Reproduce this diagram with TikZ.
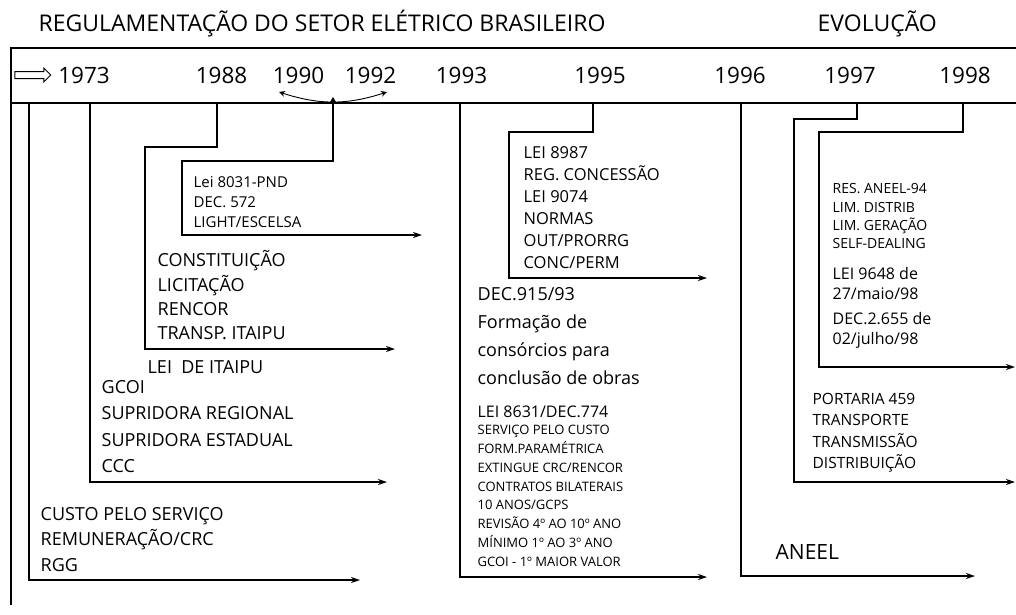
\documentclass[tikz,border=0pt]{standalone}
\usepackage{fontspec}
\setmainfont{Open Sans}
\usepackage{tikz}
\usetikzlibrary{arrows.meta,shapes.arrows}
\tikzset{yr/.style={font=\fontsize{22.5}{27}\selectfont,inner sep=0pt},
  ttl/.style={font=\fontsize{23}{27}\selectfont,inner sep=0pt,anchor=base west},
  blk/.style={align=left,inner sep=0pt,anchor=north west},
  one/.style={inner sep=0pt,anchor=base west}}

\begin{document}
\begin{tikzpicture}[>={Stealth[length=9pt,width=6pt]},x=1pt,y=-1pt,line width=1.3pt]
    \useasboundingbox (0,0) rectangle (1016,614);
    % frame and time axis
    \draw [] (1016,48) -- (11,48) -- (11,605);
    \draw [line width=1.8pt] (11,103) -- (1016,103);

    \node[ttl] (ttl) at (38,31) {REGULAMENTAÇÃO DO SETOR ELÉTRICO BRASILEIRO};
    \node[ttl] (evo) at (817,31) {EVOLUÇÃO};

    \node[single arrow,draw,line width=1pt,minimum height=36pt,minimum width=13pt,
          single arrow head extend=3.5pt,inner sep=3pt] (imp) at (31,75) {};
    \node[yr] (y73) at (84,75) {1973};
    \node[yr] (y88) at (221.5,75) {1988};
    \node[yr] (y90) at (298.5,75) {1990};
    \node[yr] (y92) at (370.5,75) {1992};
    \node[yr] (y93) at (461.5,75) {1993};
    \node[yr] (y95) at (600,75) {1995};
    \node[yr] (y96) at (740,75) {1996};
    \node[yr] (y97) at (850,75) {1997};
    \node[yr] (y98) at (965,75) {1998};

    % ticks, corners and arrow ends
    \coordinate (t73a) at (29,103);
    \coordinate (t73b) at (90,103);
    \coordinate (t88) at (217,103);
    \coordinate (t90) at (333,97);
    \coordinate (t93) at (460,103);
    \coordinate (t95) at (593,103);
    \coordinate (t96) at (741,103);
    \coordinate (t97) at (857,103);
    \coordinate (t98) at (963,103);
    \coordinate (k88) at (145,147);
    \coordinate (k90) at (182,161);
    \coordinate (k95) at (509,132);
    \coordinate (k97) at (794,119);
    \coordinate (k98) at (819,132);
    \coordinate (e73a) at (360,580);
    \coordinate (e73b) at (387,482);
    \coordinate (e88) at (395,349);
    \coordinate (e90) at (422,235);
    \coordinate (e93) at (707,577);
    \coordinate (e95) at (707,278);
    \coordinate (e96) at (975,576);
    \coordinate (e97) at (1015,482);
    \coordinate (e98) at (1015,367);
    \coordinate (a90) at (279,92);
    \coordinate (a92) at (387,92);

    \draw [->] (t73a) |- (e73a);
    \draw [->] (t73b) |- (e73b);
    \draw [->] (t88) |- (k88) |- (e88);
    \draw [{Stealth[length=6pt,width=7pt]}->] (t90) |- (k90) |- (e90);
    \draw [->] (t93) |- (e93);
    \draw [->] (t95) |- (k95) |- (e95);
    \draw [->] (t96) |- (e96);
    \draw [->] (t97) |- (k97) |- (e97);
    \draw [->] (t98) |- (k98) |- (e98);
    \draw [line width=0.9pt,{Stealth[length=6pt,width=6pt]}-{Stealth[length=6pt,width=6pt]}] (a90) to [bend right=18] (a92);

    % texts
    \node[blk,font=\fontsize{15}{20}\selectfont] (b90) at (193,176) {Lei 8031-PND\\DEC. 572\\LIGHT/ESCELSA};
    \node[blk,font=\fontsize{18}{24.3}\selectfont] (b88) at (157,250) {CONSTITUIÇÃO\\LICITAÇÃO\\RENCOR\\TRANSP. ITAIPU};
    \node[one,font=\fontsize{18}{24}\selectfont] (itp) at (147,373.4) {LEI\ \ DE ITAIPU};
    \node[blk,font=\fontsize{18}{26.5}\selectfont] (b73b) at (101,379.6) {GCOI\\SUPRIDORA REGIONAL\\SUPRIDORA ESTADUAL\\CCC};
    \node[blk,font=\fontsize{18}{25.5}\selectfont] (b73a) at (40,506.6) {CUSTO PELO SERVIÇO\\REMUNERAÇÃO/CRC\\RGG};
    \node[blk,font=\fontsize{16.5}{22}\selectfont] (b95) at (523,146) {LEI 8987\\REG. CONCESSÃO\\LEI 9074\\NORMAS\\OUT/PRORRG\\CONC/PERM};
    \node[blk,font=\fontsize{18}{28}\selectfont] (b93) at (477,286.6) {DEC.915/93\\Formação de\\consórcios para\\conclusão de obras};
    \node[blk,font=\fontsize{16}{20}\selectfont] (b93b) at (477,405.3) {LEI 8631/DEC.774};
    \node[blk,font=\fontsize{13}{18.86}\selectfont] (b93c) at (477,424.4) {SERVIÇO PELO CUSTO\\FORM.PARAMÉTRICA\\EXTINGUE CRC/RENCOR\\CONTRATOS BILATERAIS\\10 ANOS/GCPS\\REVISÃO 4º AO 10º ANO\\MÍNIMO 1º AO 3º ANO\\GCOI - 1º MAIOR VALOR};
    \node[blk,font=\fontsize{14}{18.3}\selectfont] (b98) at (832,183) {RES. ANEEL-94\\LIM. DISTRIB\\LIM. GERAÇÃO\\SELF-DEALING};
    \node[blk,font=\fontsize{16}{20}\selectfont] (b98b) at (832,266.6) {LEI 9648 de\\27/maio/98\\[5pt]DEC.2.655 de\\02/julho/98};
    \node[blk,font=\fontsize{15.5}{21.3}\selectfont] (b97) at (812,392.5) {PORTARIA 459\\TRANSPORTE\\TRANSMISSÃO\\DISTRIBUIÇÃO};
    \node[one,font=\fontsize{21}{25}\selectfont] (anl) at (775,559.5) {ANEEL};
\end{tikzpicture}
\end{document}
